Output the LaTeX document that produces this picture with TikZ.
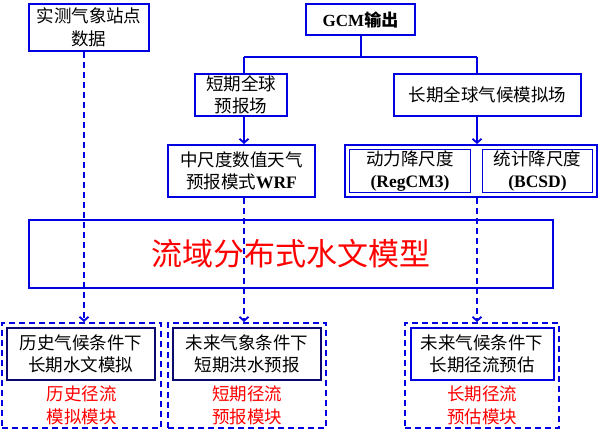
\documentclass[tikz,border=0pt]{standalone}
\usepackage{fontspec}
\setmainfont{Liberation Serif}
\newfontfamily\cjk{Noto Sans CJK SC}
\usetikzlibrary{arrows.meta,calc}
\definecolor{bl}{RGB}{0,0,225}
\definecolor{nv}{RGB}{10,10,110}
\definecolor{rd}{RGB}{255,0,0}
\begin{document}
\begin{tikzpicture}[x=1pt,y=-1pt,
  box/.style={draw=bl, line width=2pt, inner sep=0pt, align=center, text=black,
    font=\cjk\fontsize{17.5}{22.5}\selectfont},
  thinbox/.style={box, line width=1.2pt},
  navybox/.style={box, draw=nv},
  dbox/.style={draw=bl, line width=2pt, dash pattern=on 6pt off 4pt, inner sep=0pt},
  redtxt/.style={text=rd, align=center, inner sep=0pt, font=\cjk\fontsize{17.5}{23}\selectfont},
  ln/.style={draw=bl, line width=2pt},
  arr/.style={draw=bl, line width=1.8pt, -{Straight Barb[length=4pt,width=9pt]}},
  darr/.style={arr, dash pattern=on 6pt off 4pt}]
\useasboundingbox (0,0) rectangle (600,439);
\coordinate (xa) at (84,57);
\coordinate (xb) at (244,57);
\coordinate (xc) at (477,57);
% top boxes
\node[box, minimum width=120pt, minimum height=47pt] (obs) at (89,27.5) {实测气象站点\\数据};
\node[box, minimum width=109pt, minimum height=31pt, font=\cjk\bfseries\fontsize{17}{20}\selectfont] (gcm) at (360.5,19.5) {{\rmfamily\bfseries GCM}输出};
\node[box, minimum width=92pt, minimum height=42pt] (short) at (241,95) {短期全球\\预报场};
\node[box, minimum width=187pt, minimum height=42pt] (long) at (487.5,95) {长期全球气候模拟场};
\node[box, minimum width=147pt, minimum height=52pt] (wrf) at (241.5,171) {中尺度数值天气\\预报模式{\rmfamily\bfseries WRF}};
\node[box, minimum width=252pt, minimum height=52pt] (ds) at (471,171) {};
\node[thinbox, minimum width=121pt, minimum height=43pt] (ds1) at (410,171) {动力降尺度\\{\rmfamily\bfseries (RegCM3)}};
\node[thinbox, minimum width=110pt, minimum height=43pt] (ds2) at (537.5,171) {统计降尺度\\{\rmfamily\bfseries (BCSD)}};
% main model
\node[box, minimum width=524pt, minimum height=68pt, text=rd, font=\cjk\fontsize{31}{31}\selectfont] (main) at (291,254) {流域分布式水文模型};
% bottom modules
\node[dbox, minimum width=159pt, minimum height=105pt] (out1) at (81.5,375.5) {};
\node[dbox, minimum width=158pt, minimum height=105pt] (out2) at (247,375.5) {};
\node[dbox, minimum width=154pt, minimum height=105pt] (out3) at (482,375.5) {};
\node[navybox, minimum width=148pt, minimum height=52pt] (in1) at (81,354) {历史气候条件下\\长期水文模拟};
\node[navybox, minimum width=148pt, minimum height=52pt] (in2) at (247,354) {未来气象条件下\\短期洪水预报};
\node[box, minimum width=143pt, minimum height=52pt] (in3) at (482,354) {未来气候条件下\\长期径流预估};
\node[redtxt] (r1) at (81.5,405.5) {历史径流\\模拟模块};
\node[redtxt] (r2) at (247,405.5) {短期径流\\预报模块};
\node[redtxt] (r3) at (482,405.5) {长期径流\\预估模块};
% connectors
\draw[ln] (gcm.south) -- (gcm.south |- xb);
\draw[ln] (xb) -- (xc);
\draw[ln] (xb) -- (xb |- short.north);
\draw[ln] (xc) -- (xc |- long.north);
\draw[arr] (short.south -| xb) -- (wrf.north -| xb);
\draw[arr] (long.south -| xc) -- (ds.north -| xc);
\draw[darr] (obs.south -| xa) -- (out1.north -| xa);
\draw[darr] (wrf.south -| xb) -- (out2.north -| xb);
\draw[darr] (ds.south -| xc) -- (out3.north -| xc);
\end{tikzpicture}
\end{document}
